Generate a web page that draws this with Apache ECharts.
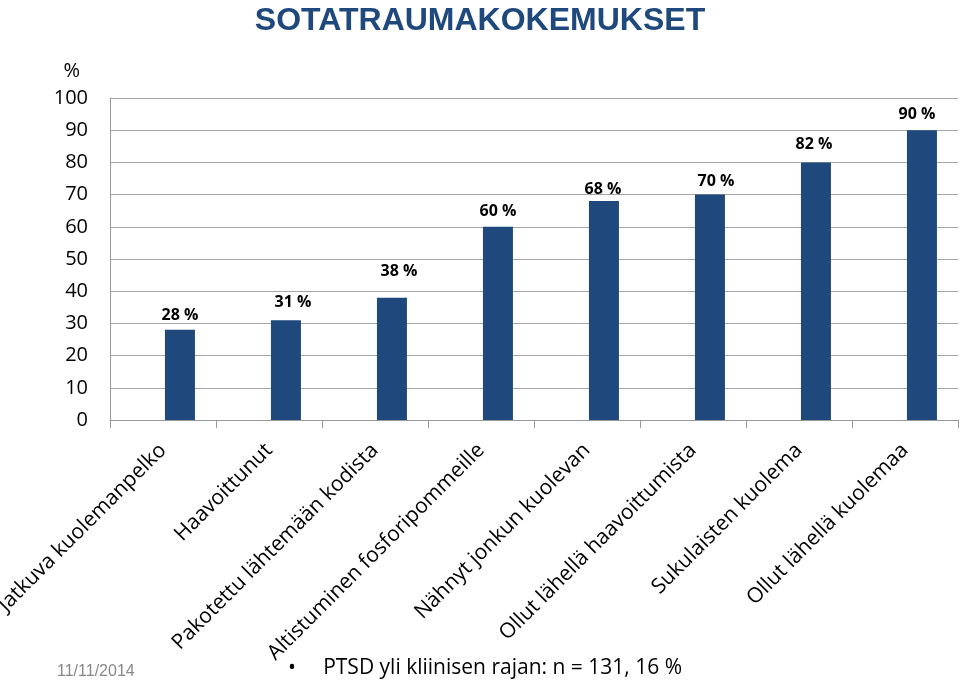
<!DOCTYPE html>
<html>
<head>
<meta charset="utf-8">
<script src="https://cdn.jsdelivr.net/npm/echarts@6/dist/echarts.min.js"></script>
<style>
  html, body { margin: 0; padding: 0; background: #fff; }
  #chart { width: 960px; height: 683px; }
</style>
</head>
<body>
<div id="chart"></div>
<script>
const categories = [
  'Jatkuva kuolemanpelko',
  'Haavoittunut',
  'Pakotettu lähtemään kodista',
  'Altistuminen fosforipommeille',
  'Nähnyt jonkun kuolevan',
  'Ollut lähellä haavoittumista',
  'Sukulaisten kuolema',
  'Ollut lähellä kuolemaa'
];
const barValues = [28, 31, 38, 60, 68, 70, 80, 90];
const barLabels = ['28 %', '31 %', '38 %', '60 %', '68 %', '70 %', '82 %', '90 %'];
const yTicks = [0, 10, 20, 30, 40, 50, 60, 70, 80, 90, 100];
const titleText = 'SOTATRAUMAKOKEMUKSET';
const dateText = '11/11/2014';
const noteText = '•     PTSD yli kliinisen rajan: n = 131, 16 %';

// hand-placed value labels in the original sit a little off the bar tops
const labelNudge = [[0, 2], [7, -2], [7, -10], [0, 1], [-1, 4], [6, 3], [-2, -2], [-5, 0]];

const chart = echarts.init(document.getElementById('chart'));

const option = {
  animation: false,
  title: {
    text: titleText,
    left: 'center',
    top: 0,
    textStyle: {
      fontFamily: 'Liberation Sans Narrow, Liberation Sans, Arial',
      fontWeight: 'bold',
      fontSize: 32,
      color: '#1f497d'
    }
  },
  grid: {
    left: 110, right: 2, top: 98, bottom: 263,
    containLabel: false,
    outerBoundsMode: 'none'
  },
  xAxis: {
    type: 'category',
    data: categories,
    axisLine: { lineStyle: { color: '#999', width: 1 } },
    axisTick: { show: true, length: 8, lineStyle: { color: '#999' } },
    axisLabel: {
      interval: 0,
      rotate: 45,
      margin: 27,
      fontFamily: 'Open Sans, Liberation Sans',
      fontSize: 21,
      color: '#000'
    }
  },
  yAxis: {
    type: 'value',
    min: yTicks[0],
    max: yTicks[yTicks.length - 1],
    interval: 10,
    name: '%',
    nameLocation: 'end',
    nameGap: 17,
    nameTextStyle: {
      align: 'right',
      padding: [0, 30, 0, 0],
      fontFamily: 'Open Sans, Liberation Sans',
      fontSize: 20,
      color: '#000'
    },
    axisLine: { show: true, lineStyle: { color: '#999' } },
    axisTick: { show: false },
    splitLine: { lineStyle: { color: '#a6a6a6', width: 1 } },
    axisLabel: {
      margin: 22,
      fontFamily: 'Open Sans, Liberation Sans',
      fontSize: 20,
      color: '#000'
    }
  },
  series: [
    {
      // empty companion series shifts the visible bars right, as in the original
      type: 'bar',
      data: categories.map(() => null),
      barWidth: 30,
      barGap: '13%'
    },
    {
      type: 'bar',
      data: barValues.map((v, i) => ({
        value: v,
        label: { offset: labelNudge[i] }
      })),
      barWidth: 30,
      itemStyle: { color: '#1f497d' },
      label: {
        show: true,
        position: 'top',
        distance: 8,
        formatter: (p) => barLabels[p.dataIndex],
        fontFamily: 'Open Sans, Liberation Sans',
        fontWeight: 'bold',
        fontSize: 16,
        color: '#000'
      }
    }
  ],
  graphic: [
    {
      type: 'text',
      left: 57,
      top: 664,
      style: {
        text: dateText,
        fontFamily: 'Liberation Sans Narrow, Liberation Sans',
        fontSize: 16,
        fill: '#888'
      }
    },
    {
      type: 'text',
      left: 288,
      top: 658,
      style: {
        text: noteText,
        fontFamily: 'Open Sans, Liberation Sans',
        fontSize: 21,
        fill: '#000'
      }
    }
  ]
};

chart.setOption(option);
</script>
</body>
</html>
